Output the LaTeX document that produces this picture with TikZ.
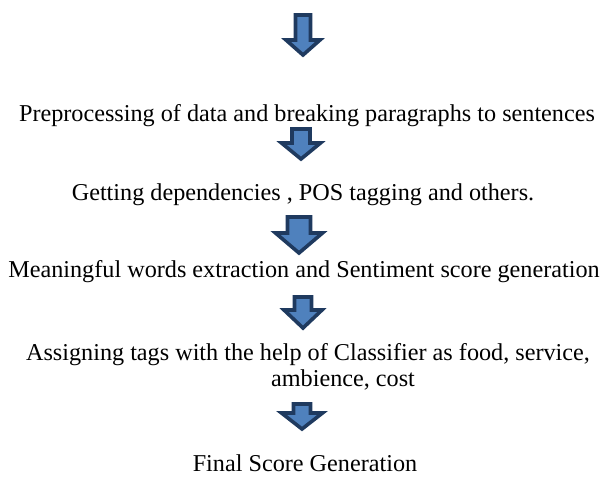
\documentclass[tikz,border=0pt]{standalone}
\usepackage{fontspec}
\setmainfont{Liberation Serif}
\definecolor{arrline}{HTML}{1F3A5F}
\definecolor{arrfill}{HTML}{4F81BD}
\tikzset{
  arrowbody/.style={draw=arrline, fill=arrfill, line width=3.6pt, line join=miter},
  steptext/.style={anchor=base, inner sep=0pt, font=\fontsize{24.2}{27}\selectfont}
}
\newcommand\blockarr[6]{%
  \filldraw[arrowbody] ({#1-#5},{#2}) -- ({#1+#5},{#2}) -- ({#1+#5},{#3}) -- ({#1+#6},{#3}) -- ({#1},{#4}) -- ({#1-#6},{#3}) -- ({#1-#5},{#3}) -- cycle;}
\begin{document}
\begin{tikzpicture}[x=1pt,y=-1pt]
\useasboundingbox (0,0) rectangle (612,482);
\blockarr{303}{15}{40}{55}{7.5}{17}
\node[steptext] (t1) at (307,121) {Preprocessing of data and breaking paragraphs to sentences};
\blockarr{301}{129}{143}{159}{9}{19.5}
\node[steptext] (t2) at (303,200) {Getting dependencies , POS tagging and others.};
\blockarr{299}{217}{233}{253}{11.5}{23.5}
\node[steptext] (t3) at (304,277) {Meaningful words extraction and Sentiment score generation};
\blockarr{303}{297}{310}{328}{8.5}{19}
\node[steptext] (t4a) at (308,360) {Assigning tags with the help of Classifier as food, service,};
\node[steptext] (t4b) at (343,386) {ambience, cost};
\blockarr{302}{404}{413}{429}{8.5}{20.5}
\node[steptext] (t5) at (305,471) {Final Score Generation};
\end{tikzpicture}
\end{document}
